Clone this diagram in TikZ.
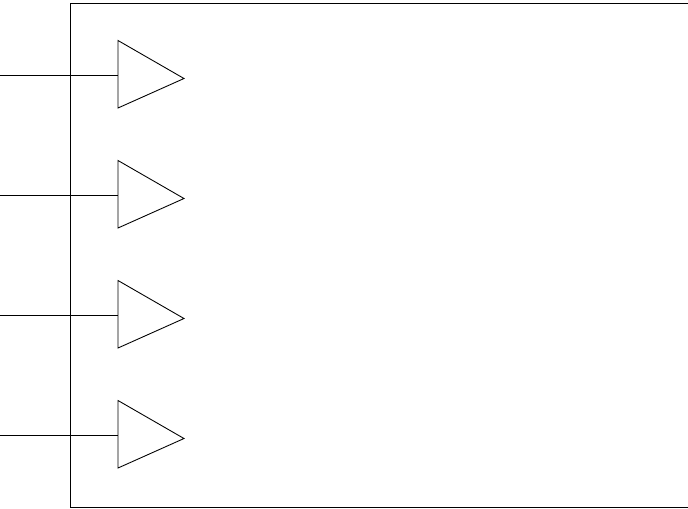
\documentclass[tikz,border=0pt]{standalone}
\usepackage{tikz}
\usetikzlibrary{positioning}
\tikzset{
	wire/.style={line width=0.5pt},
}
\begin{document}
\begin{tikzpicture}[x=0.02cm,y=-0.02cm]
	\useasboundingbox (0,0) rectangle (688,508);
	% outer box
	\draw[wire] (688,3.5) -- (70,3.5) -- (70,507.5) -- (688,507.5);
	% input buffers
	\foreach \i/\y in {1/75,2/195,3/315,4/435}{
		\coordinate (in\i) at (0,\y);
		\coordinate (buf\i) at (118,\y);
		\draw[wire] (118,\y-34.5) -- (184,\y+3.5) -- (118,\y+33) -- cycle;
		\draw[wire] (in\i) -- (buf\i);
	}
\end{tikzpicture}
\end{document}
